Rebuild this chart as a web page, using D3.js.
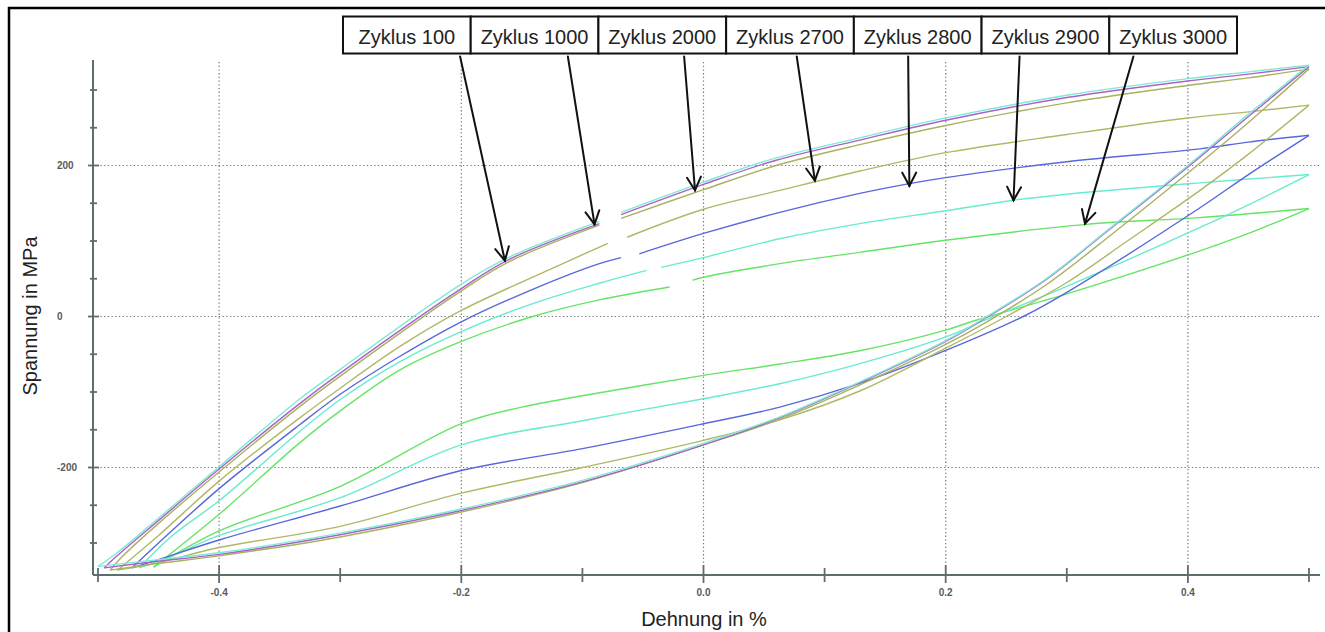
<!DOCTYPE html>
<html>
<head>
<meta charset="utf-8">
<script src="https://cdn.jsdelivr.net/npm/d3@7/dist/d3.min.js"></script>
<style>
  html, body { margin: 0; padding: 0; background: #fff; }
  svg { display: block; }
  text { font-family: "Liberation Sans", Arial, Helvetica, sans-serif; }
</style>
</head>
<body>
<svg id="chart" width="1325" height="632"></svg>
<script>
// ---------------- data ----------------
const cycles = ["Zyklus 100", "Zyklus 1000", "Zyklus 2000", "Zyklus 2700", "Zyklus 2800", "Zyklus 2900", "Zyklus 3000"];

// loading branches [strain %, stress MPa] (from compressive tip to tensile tip)
const load100  = [[-0.5,-331],[-0.45,-322],[-0.4,-313],[-0.3,-287],[-0.2,-255],[-0.1,-217],[0,-168],[0.063,-133],[0.13,-86],[0.2,-32],[0.234,0],[0.283,50],[0.338,120],[0.4,200],[0.45,268],[0.5,333]];
const load1000 = [[-0.495,-333],[-0.45,-324],[-0.4,-315],[-0.3,-289],[-0.2,-257],[-0.1,-219],[0,-170],[0.063,-134],[0.13,-87],[0.2,-33],[0.234,-1],[0.283,49],[0.338,119],[0.4,198],[0.45,265],[0.5,331]];
const load2000 = [[-0.49,-336],[-0.45,-327],[-0.4,-317],[-0.3,-292],[-0.2,-259],[-0.1,-220],[0,-170],[0.063,-136],[0.13,-90],[0.2,-37],[0.234,-7],[0.283,42],[0.338,110],[0.4,190],[0.45,257],[0.5,328]];
const load2700 = [[-0.484,-336],[-0.45,-326],[-0.4,-306],[-0.3,-278],[-0.2,-234],[-0.1,-200],[0,-164],[0.063,-137],[0.13,-98],[0.2,-42],[0.25,0],[0.3,45],[0.35,100],[0.41,167],[0.45,215],[0.5,280]];
const load2800 = [[-0.472,-333],[-0.45,-322],[-0.4,-296],[-0.3,-251],[-0.2,-204],[-0.1,-175],[0,-142],[0.063,-120],[0.13,-88],[0.2,-45],[0.264,0],[0.3,32],[0.41,144],[0.45,188],[0.5,240]];
const load2900 = [[-0.466,-333],[-0.44,-318],[-0.4,-290],[-0.3,-240],[-0.2,-170],[-0.1,-138],[0,-109],[0.063,-89],[0.13,-62],[0.2,-27],[0.232,-5],[0.3,40],[0.41,118],[0.45,148],[0.5,188]];
const load3000 = [[-0.454,-332],[-0.4,-284],[-0.3,-225],[-0.2,-142],[-0.15,-120],[-0.1,-105],[0,-78],[0.063,-63],[0.13,-45],[0.2,-18],[0.225,-5],[0.3,30],[0.41,87],[0.45,110],[0.5,143]];

// unloading branches (from tensile tip back to compressive tip); null = gap in the record
const unload100  = [[0.5,333],[0.45,324],[0.4,315],[0.3,293],[0.2,263],[0.13,237],[0.06,210],[0,178],[-0.068,138],null,[-0.086,126],[-0.16,79],[-0.2,43],[-0.3,-70],[-0.334,-110],[-0.4,-199],[-0.45,-267],[-0.485,-314],[-0.5,-331]];
const unload1000 = [[0.5,331],[0.45,321],[0.4,312],[0.3,290],[0.2,260],[0.13,234],[0.06,207],[0,175],[-0.068,135],null,[-0.086,123],[-0.16,76],[-0.2,37],[-0.3,-75],[-0.334,-116],[-0.4,-202],[-0.45,-270],[-0.485,-318],[-0.495,-333]];
const unload2000 = [[0.5,328],[0.45,316],[0.4,306],[0.3,283],[0.2,253],[0.13,228],[0.06,200],[0,168],[-0.068,130],null,[-0.086,121],[-0.16,73],[-0.2,34],[-0.3,-79],[-0.334,-120],[-0.4,-206],[-0.45,-274],[-0.48,-318],[-0.49,-336]];
const unload2700 = [[0.5,280],[0.45,271],[0.4,263],[0.3,241],[0.2,217],[0.13,193],[0.063,167],[0,142],[-0.063,105],null,[-0.079,97],[-0.13,60],[-0.2,8],[-0.251,-40],[-0.3,-95],[-0.334,-135],[-0.4,-218],[-0.45,-290],[-0.484,-336]];
const unload2800 = [[0.5,240],[0.45,231],[0.41,222],[0.3,205],[0.2,184],[0.17,176],[0.129,163],[0.063,138],[0,110],[-0.053,83],null,[-0.068,78],[-0.086,70],[-0.141,36],[-0.2,-7],[-0.251,-53],[-0.3,-103],[-0.334,-144],[-0.4,-228],[-0.45,-300],[-0.472,-333]];
const unload2900 = [[0.5,188],[0.41,177],[0.3,162],[0.256,154],[0.2,140],[0.129,123],[0.063,103],[0,78],[-0.035,65],null,[-0.047,61],[-0.086,44],[-0.141,17],[-0.2,-20],[-0.251,-60],[-0.3,-110],[-0.334,-153],[-0.4,-244],[-0.44,-292],[-0.466,-333]];
const unload3000 = [[0.5,143],[0.41,131],[0.316,122],[0.2,101],[0.129,85],[0.063,70],[0,52],[-0.009,48],null,[-0.028,39],[-0.086,22],[-0.141,0],[-0.2,-33],[-0.251,-71],[-0.3,-125],[-0.334,-168],[-0.4,-262],[-0.454,-332]];

const loadBranches   = [load100, load1000, load2000, load2700, load2800, load2900, load3000];
const unloadBranches = [unload100, unload1000, unload2000, unload2700, unload2800, unload2900, unload3000];

// annotation arrows: tip on the curve, start below each label box (strain coordinate)
const arrowTipStrain   = [-0.164, -0.090, -0.007, 0.092, 0.170, 0.256, 0.315];
const arrowTipStress   = [74, 122, 167, 180, 173, 154, 123];
const arrowStartStrain = [-0.201, -0.112, -0.016, 0.077, 0.169, 0.261, 0.355];

// axes
const xMajorTicks = [-0.4, -0.2, 0.0, 0.2, 0.4];
const xMinorTicks = [-0.5, -0.3, -0.1, 0.1, 0.3, 0.5];
const yMajorTicks = [-200, 0, 200];
const yMinorTicks = [-300, -250, -150, -100, -50, 50, 100, 150, 250, 300];

// ---------------- styles ----------------
const colors = ["#7fe9d6", "#a862c8", "#a9b25e", "#b0b866", "#5868dc", "#68ebd0", "#66e466"];
const axisColor = "#5c6e6e";

// ---------------- drawing ----------------
const svg = d3.select("#chart");

// outer frame
svg.append("rect").attr("x", 9).attr("y", 8).attr("width", 1320).attr("height", 700)
  .attr("fill", "none").attr("stroke", "#000").attr("stroke-width", 2.5);

const x = d3.scaleLinear().domain([-0.5, 0.5]).range([98, 1309]);
const y = d3.scaleLinear().domain([-200, 200]).range([467.5, 165.5]);

const axisX0 = 93, axisX1 = 1320, axisY0 = 60, axisY1 = 575;

// grid
const grid = svg.append("g").attr("stroke", "#6b7a7a").attr("stroke-width", 1.2)
  .attr("stroke-dasharray", "1.3,2.4");
grid.selectAll("line.v").data(xMajorTicks).join("line")
  .attr("x1", d => x(d)).attr("x2", d => x(d)).attr("y1", 62).attr("y2", axisY1);
grid.selectAll("line.h").data(yMajorTicks).join("line")
  .attr("x1", axisX0).attr("x2", axisX1).attr("y1", d => y(d)).attr("y2", d => y(d));

// axes lines
svg.append("line").attr("x1", axisX0).attr("x2", axisX0).attr("y1", axisY0).attr("y2", axisY1)
  .attr("stroke", axisColor).attr("stroke-width", 2);
svg.append("line").attr("x1", axisX0).attr("x2", axisX1).attr("y1", axisY1).attr("y2", axisY1)
  .attr("stroke", axisColor).attr("stroke-width", 2);

// x ticks
svg.append("g").selectAll("line").data(xMajorTicks).join("line")
  .attr("x1", d => x(d)).attr("x2", d => x(d)).attr("y1", axisY1 - 10).attr("y2", axisY1 + 8)
  .attr("stroke", axisColor).attr("stroke-width", 1.8);
svg.append("g").selectAll("line").data(xMinorTicks).join("line")
  .attr("x1", d => x(d)).attr("x2", d => x(d)).attr("y1", axisY1 - 7).attr("y2", axisY1 + 7)
  .attr("stroke", axisColor).attr("stroke-width", 1.8);
svg.append("g").selectAll("text").data(xMajorTicks).join("text")
  .attr("x", d => x(d)).attr("y", 596).attr("text-anchor", "middle")
  .attr("font-size", 10).attr("font-weight", "bold").attr("fill", "#5a5a5a")
  .text(d => d3.format(".1f")(d).replace("−", "-"));

// y ticks
svg.append("g").selectAll("line").data(yMajorTicks).join("line")
  .attr("x1", axisX0 - 5).attr("x2", axisX0 + 6).attr("y1", d => y(d)).attr("y2", d => y(d))
  .attr("stroke", axisColor).attr("stroke-width", 1.8);
svg.append("g").selectAll("line").data(yMinorTicks).join("line")
  .attr("x1", axisX0 - 3).attr("x2", axisX0 + 4).attr("y1", d => y(d)).attr("y2", d => y(d))
  .attr("stroke", axisColor).attr("stroke-width", 1.8);
svg.append("g").selectAll("text").data(yMajorTicks).join("text")
  .attr("x", 57).attr("y", d => y(d) + 3.5).attr("text-anchor", "start")
  .attr("font-size", 10).attr("font-weight", "bold").attr("fill", "#5a5a5a")
  .text(d => String(d));

// axis titles
svg.append("text").attr("x", 704).attr("y", 626).attr("text-anchor", "middle")
  .attr("font-size", 20).attr("fill", "#222").text("Dehnung in %");
svg.append("text").attr("transform", "translate(37,316) rotate(-90)").attr("text-anchor", "middle")
  .attr("font-size", 20).attr("fill", "#222").text("Spannung in MPa");

// curves
const line = d3.line().defined(d => d != null)
  .x(d => x(d[0])).y(d => y(d[1])).curve(d3.curveCatmullRom.alpha(0.5));
const curves = svg.append("g").attr("fill", "none").attr("stroke-width", 1.4)
  .attr("stroke-linejoin", "round");
for (let i = cycles.length - 1; i >= 0; i--) {
  curves.append("path").attr("d", line(loadBranches[i])).attr("stroke", colors[i]);
  curves.append("path").attr("d", line(unloadBranches[i])).attr("stroke", colors[i]);
}

// label boxes
const band = d3.scaleBand().domain(cycles).range([343, 1237]).padding(0);
const boxTop = 16.5, boxH = 37;
const labels = svg.append("g");
labels.selectAll("rect").data(cycles).join("rect")
  .attr("x", d => band(d)).attr("y", boxTop).attr("width", band.bandwidth()).attr("height", boxH)
  .attr("fill", "#fff").attr("stroke", "#111").attr("stroke-width", 2);
labels.selectAll("text").data(cycles).join("text")
  .attr("x", d => band(d) + band.bandwidth() / 2).attr("y", boxTop + 27)
  .attr("text-anchor", "middle").attr("font-size", 20).attr("fill", "#222").text(d => d);

// arrows
const arrows = svg.append("g").attr("stroke", "#111").attr("stroke-width", 2).attr("fill", "none")
  .attr("stroke-linecap", "round");
cycles.forEach((c, i) => {
  const x0 = x(arrowStartStrain[i]), y0 = boxTop + boxH + 3;
  const x1 = x(arrowTipStrain[i]), y1 = y(arrowTipStress[i]);
  arrows.append("line").attr("x1", x0).attr("y1", y0).attr("x2", x1).attr("y2", y1);
  const ang = Math.atan2(y1 - y0, x1 - x0);
  const L = 15, spread = Math.PI / 6.5;
  const p1 = [x1 - L * Math.cos(ang - spread), y1 - L * Math.sin(ang - spread)];
  const p2 = [x1 - L * Math.cos(ang + spread), y1 - L * Math.sin(ang + spread)];
  arrows.append("path").attr("d", `M${p1[0]},${p1[1]}L${x1},${y1}L${p2[0]},${p2[1]}`);
});
</script>
</body>
</html>
